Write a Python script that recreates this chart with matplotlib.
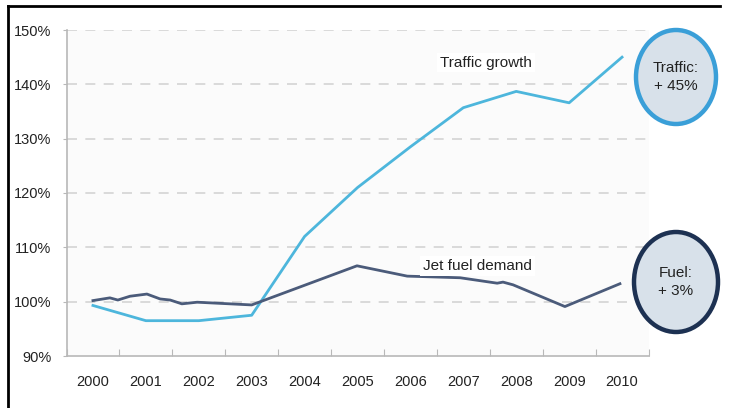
import matplotlib
matplotlib.use("Agg")
import matplotlib.pyplot as plt
from matplotlib.patches import Ellipse
from matplotlib.lines import Line2D

plt.rcParams['font.family'] = ['Liberation Sans', 'DejaVu Sans']

# ---- data ----
years = [2000, 2001, 2002, 2003, 2004, 2005, 2006, 2007, 2008, 2009, 2010]
year_labels = [str(y) for y in years]
traffic = [99.3, 96.5, 96.5, 97.5, 112.0, 121.0, 128.5, 135.7, 138.7, 136.6, 145.0]
fuel_x = [2000.0, 2000.32, 2000.47, 2000.70, 2001.02, 2001.27, 2001.46, 2001.68,
          2001.97, 2003.0, 2004.99, 2005.94, 2006.94, 2007.64, 2007.75, 2007.94,
          2008.92, 2009.96]
fuel = [100.2, 100.7, 100.3, 101.0, 101.4, 100.5, 100.3, 99.6,
        99.9, 99.4, 106.6, 104.7, 104.4, 103.4, 103.6, 103.1,
        99.1, 103.3]
yticks = [90, 100, 110, 120, 130, 140, 150]
ytick_labels = [f"{v}%" for v in yticks]
traffic_label = "Traffic growth"
fuel_label = "Jet fuel demand"
traffic_badge = "Traffic:\n+ 45%"
fuel_badge = "Fuel:\n+ 3%"

W, H = 729, 408
fig = plt.figure(figsize=(W / 100, H / 100), dpi=100)
fig.patch.set_facecolor('white')
ax = fig.add_axes([66.5 / W, 1 - 356 / H, (648.5 - 66.5) / W, (356 - 30) / H])
ax.set_facecolor('#fbfbfb')

traffic_color = '#4db6dc'
fuel_color = '#4b5b7a'

ax.plot(years, traffic, color=traffic_color, lw=2.0, solid_joinstyle='round', zorder=3)
ax.plot(fuel_x, fuel, color=fuel_color, lw=2.0, solid_joinstyle='round', zorder=3)

ax.set_xlim(1999.5, 2010.5)
ax.set_ylim(90, 150)

# grid lines (dashed)
for v in yticks[1:]:
    ax.axhline(v, color='#d4d4d4', lw=1.2, ls=(0, (6, 5)), zorder=1)

for s in ['top', 'right']:
    ax.spines[s].set_visible(False)
for s in ['left', 'bottom']:
    ax.spines[s].set_color('#b8b8b8')
    ax.spines[s].set_linewidth(1.2)

ax.set_yticks(yticks)
ax.set_yticklabels(ytick_labels, fontsize=10.5, color='#222222')
ax.tick_params(axis='y', length=3, color='#b8b8b8', pad=8)

edges = [y - 0.5 for y in years] + [years[-1] + 0.5]
ax.set_xticks(edges)
ax.set_xticklabels([''] * len(edges))
ax.tick_params(axis='x', which='major', length=5, color='#b8b8b8', direction='in')
ax.set_xticks(years, minor=True)
ax.set_xticklabels(year_labels, minor=True, fontsize=10.5, color='#222222')
ax.tick_params(axis='x', which='minor', length=0, pad=14)

ax.text(2006.56, 144.0, traffic_label, fontsize=11, color='#222222', va='center', ha='left',
        bbox=dict(facecolor='white', edgecolor='none', pad=2), zorder=4)
ax.text(2006.24, 106.6, fuel_label, fontsize=11, color='#222222', va='center', ha='left',
        bbox=dict(facecolor='white', edgecolor='none', pad=2), zorder=4)

# badges
def badge(cx, cy, w, h, edge, text):
    e = Ellipse((cx / W, 1 - cy / H), w / W, h / H, transform=fig.transFigure,
                facecolor='#d8e1ea', edgecolor=edge, lw=3.2, zorder=5)
    fig.patches.append(e)
    fig.text(cx / W, 1 - cy / H, text, ha='center', va='center', fontsize=11,
             color='#222222', linespacing=1.3, zorder=6)

badge(676, 77, 80, 94, '#3a9fd8', traffic_badge)
badge(676, 282, 84, 100, '#1d3152', fuel_badge)

# frame (left and top)
fig.add_artist(Line2D([7.5 / W, 7.5 / W], [0, 1 - 6 / H], transform=fig.transFigure,
                      color='black', lw=2.0))
fig.add_artist(Line2D([7.5 / W, 720 / W], [1 - 6 / H, 1 - 6 / H], transform=fig.transFigure,
                      color='black', lw=2.0))

fig.savefig('out.png', dpi=100)
